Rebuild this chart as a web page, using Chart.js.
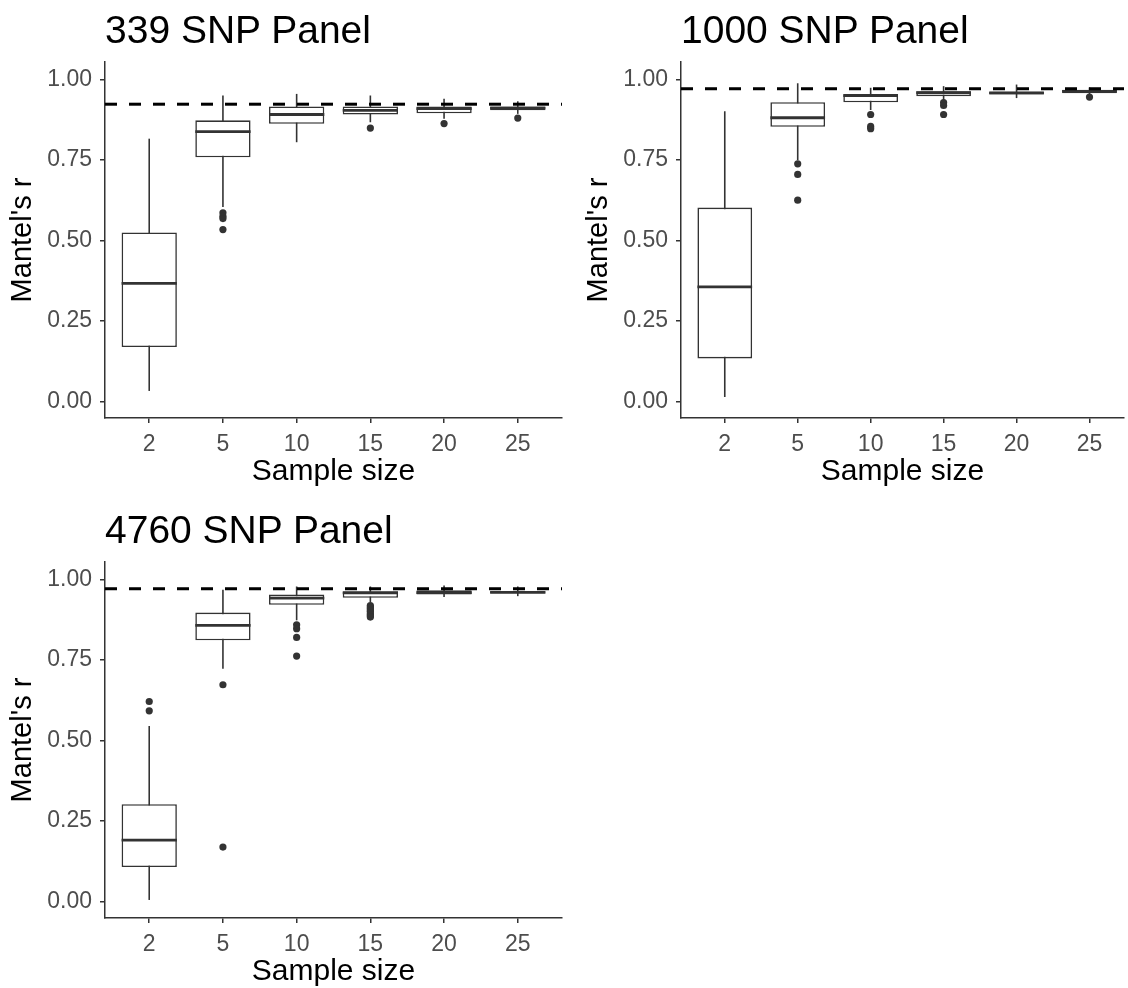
<!DOCTYPE html>
<html>
<head>
<meta charset="utf-8">
<title>Mantel's r by sample size</title>
<script src="https://cdn.jsdelivr.net/npm/chart.js@4.4.1/dist/chart.umd.min.js"></script>
<style>
  body { margin: 0; width: 1128px; height: 988px; overflow: hidden; background: #fff; position: relative;
         font-family: "Liberation Sans", Arial, sans-serif; }
  .panel { position: absolute; }
  .panel canvas { position: absolute; left: 0; top: 0; }
  .panel-title { position: absolute; left: 105px; top: 10px; font-size: 39px; line-height: 39px;
                 color: #000; white-space: nowrap; }
</style>
</head>
<body>
  <div class="panel" style="left:0;top:0;width:570px;height:500px">
    <canvas id="chart339" width="570" height="500"></canvas>
    <div class="panel-title">339 SNP Panel</div>
  </div>
  <div class="panel" style="left:576px;top:0;width:552px;height:500px">
    <canvas id="chart1000" width="552" height="500"></canvas>
    <div class="panel-title">1000 SNP Panel</div>
  </div>
  <div class="panel" style="left:0;top:500px;width:570px;height:500px">
    <canvas id="chart4760" width="570" height="500"></canvas>
    <div class="panel-title">4760 SNP Panel</div>
  </div>

<script>
// --- DATA ---
const categories = ['2', '5', '10', '15', '20', '25'];
const yTickValues = [0, 0.25, 0.5, 0.75, 1];

// 339 SNP panel
const p339Low    = [0.033, 0.604, 0.805, 0.867, 0.878, 0.893];
const p339Q1     = [0.169, 0.758, 0.862, 0.891, 0.895, 0.904];
const p339Median = [0.367, 0.838, 0.891, 0.904, 0.909, 0.911];
const p339Q3     = [0.525, 0.873, 0.916, 0.916, 0.916, 0.916];
const p339High   = [0.816, 0.950, 0.955, 0.950, 0.940, 0.932];
const p339Outliers = [[], [0.586, 0.575, 0.568, 0.534], [], [0.849], [0.863], [0.880]];
const p339Ref = 0.923;

// 1000 SNP panel
const p1000Low    = [0.014, 0.749, 0.905, 0.935, 0.942, 0.952];
const p1000Q1     = [0.134, 0.853, 0.929, 0.948, 0.953, 0.957];
const p1000Median = [0.356, 0.881, 0.950, 0.959, 0.958, 0.963];
const p1000Q3     = [0.602, 0.929, 0.953, 0.963, 0.962, 0.968];
const p1000High   = [0.901, 0.988, 0.974, 0.979, 0.984, 0.975];
const p1000Outliers = [[], [0.738, 0.705, 0.625], [0.891, 0.854, 0.847], [0.928, 0.919, 0.891], [], [0.945]];
const p1000Ref = 0.971;

// 4760 SNP panel
const p4760Low    = [0.005, 0.723, 0.873, 0.929, 0.945, 0.948];
const p4760Q1     = [0.107, 0.811, 0.921, 0.943, 0.953, 0.957];
const p4760Median = [0.191, 0.857, 0.942, 0.958, 0.959, 0.960];
const p4760Q3     = [0.302, 0.897, 0.953, 0.963, 0.966, 0.963];
const p4760High   = [0.545, 0.968, 0.978, 0.978, 0.981, 0.978];
const p4760Outliers = [[0.621, 0.592], [0.673, 0.169], [0.859, 0.847, 0.820, 0.762],
                       [0.919, 0.914, 0.910, 0.905, 0.901, 0.896, 0.891, 0.887, 0.883], [], []];
const p4760Ref = 0.971;

// --- STYLE ---
const INK = '#333333';
const TICK_TEXT = '#4d4d4d';
Chart.defaults.font.family = '"Liberation Sans", Arial, sans-serif';

// whiskers go under the box, medians on top of it
const boxPlotPlugin = {
    id: 'boxPlot',
    beforeDatasetDraw(chart, args) {
        const ds = chart.data.datasets[args.index];
        if (!ds.whiskerLow) return;
        const y = chart.scales.y;
        const ctx = chart.ctx;
        ctx.save();
        ctx.strokeStyle = INK;
        ctx.lineWidth = 1.6;
        args.meta.data.forEach((bar, i) => {
            ctx.beginPath();
            ctx.moveTo(bar.x, y.getPixelForValue(ds.whiskerLow[i]));
            ctx.lineTo(bar.x, y.getPixelForValue(ds.whiskerHigh[i]));
            ctx.stroke();
        });
        ctx.restore();
    },
    afterDatasetDraw(chart, args) {
        const ds = chart.data.datasets[args.index];
        if (!ds.medians) return;
        const y = chart.scales.y;
        const ctx = chart.ctx;
        ctx.save();
        ctx.strokeStyle = INK;
        ctx.lineWidth = 2.8;
        args.meta.data.forEach((bar, i) => {
            const py = y.getPixelForValue(ds.medians[i]);
            ctx.beginPath();
            ctx.moveTo(bar.x - bar.width / 2, py);
            ctx.lineTo(bar.x + bar.width / 2, py);
            ctx.stroke();
        });
        ctx.restore();
    }
};

const makePanel = (canvasId, low, q1, median, q3, high, outliers, ref, xMax, padRight) => {
    const outlierPoints = [];
    outliers.forEach((list, i) => list.forEach(v => outlierPoints.push({ x: i, y: v })));

    return new Chart(document.getElementById(canvasId), {
        type: 'bar',
        data: {
            datasets: [
                {
                    type: 'line',
                    data: [{ x: -0.6, y: ref }, { x: 5.6, y: ref }],
                    borderColor: '#000',
                    borderWidth: 3,
                    borderDash: [12, 12],
                    pointRadius: 0,
                    order: 0
                },
                {
                    type: 'scatter',
                    data: outlierPoints,
                    pointRadius: 3.6,
                    backgroundColor: INK,
                    borderWidth: 0,
                    order: 1
                },
                {
                    type: 'bar',
                    data: categories.map((c, i) => ({ x: i, y: [q1[i], q3[i]] })),
                    backgroundColor: '#ffffff',
                    borderColor: INK,
                    borderWidth: 1.6,
                    borderSkipped: false,
                    categoryPercentage: 1,
                    barPercentage: 0.75,
                    grouped: false,
                    whiskerLow: low,
                    whiskerHigh: high,
                    medians: median,
                    order: 2
                }
            ]
        },
        options: {
            responsive: false,
            animation: false,
            events: [],
            layout: { padding: { top: 62, right: padRight, left: 0, bottom: 0 } },
            plugins: { legend: { display: false }, tooltip: { enabled: false } },
            scales: {
                x: {
                    type: 'linear',
                    min: -0.6,
                    max: xMax,
                    offset: false,
                    afterBuildTicks: (axis) => { axis.ticks = categories.map((c, i) => ({ value: i })); },
                    afterFit: (axis) => { axis.height = 82; },
                    ticks: {
                        callback: (v) => categories[v],
                        color: TICK_TEXT,
                        font: { size: 23 },
                        padding: 8,
                        maxRotation: 0
                    },
                    grid: { drawOnChartArea: false, drawTicks: true, tickLength: 5, color: INK, lineWidth: 1.5, offset: false },
                    border: { display: true, color: INK, width: 1.5 },
                    title: { display: true, text: 'Sample size', color: '#000', font: { size: 30 }, padding: { top: 0, bottom: 10 } }
                },
                y: {
                    min: -0.051,
                    max: 1.054,
                    afterBuildTicks: (axis) => { axis.ticks = yTickValues.map(v => ({ value: v })); },
                    afterFit: (axis) => { axis.width = 105; },
                    ticks: {
                        callback: (v) => v.toFixed(2),
                        color: TICK_TEXT,
                        font: { size: 23 },
                        padding: 8
                    },
                    grid: { drawOnChartArea: false, drawTicks: true, tickLength: 5, color: INK, lineWidth: 1.5 },
                    border: { display: true, color: INK, width: 1.5 },
                    title: { display: true, text: "Mantel's r", color: '#000', font: { size: 29 }, padding: { top: 6, bottom: 0 } }
                }
            }
        },
        plugins: [boxPlotPlugin]
    });
};

document.addEventListener('DOMContentLoaded', () => {
    makePanel('chart339', p339Low, p339Q1, p339Median, p339Q3, p339High, p339Outliers, p339Ref, 5.6, 8);
    makePanel('chart1000', p1000Low, p1000Q1, p1000Median, p1000Q3, p1000High, p1000Outliers, p1000Ref, 5.473, 0);
    makePanel('chart4760', p4760Low, p4760Q1, p4760Median, p4760Q3, p4760High, p4760Outliers, p4760Ref, 5.6, 8);
});
</script>
</body>
</html>
